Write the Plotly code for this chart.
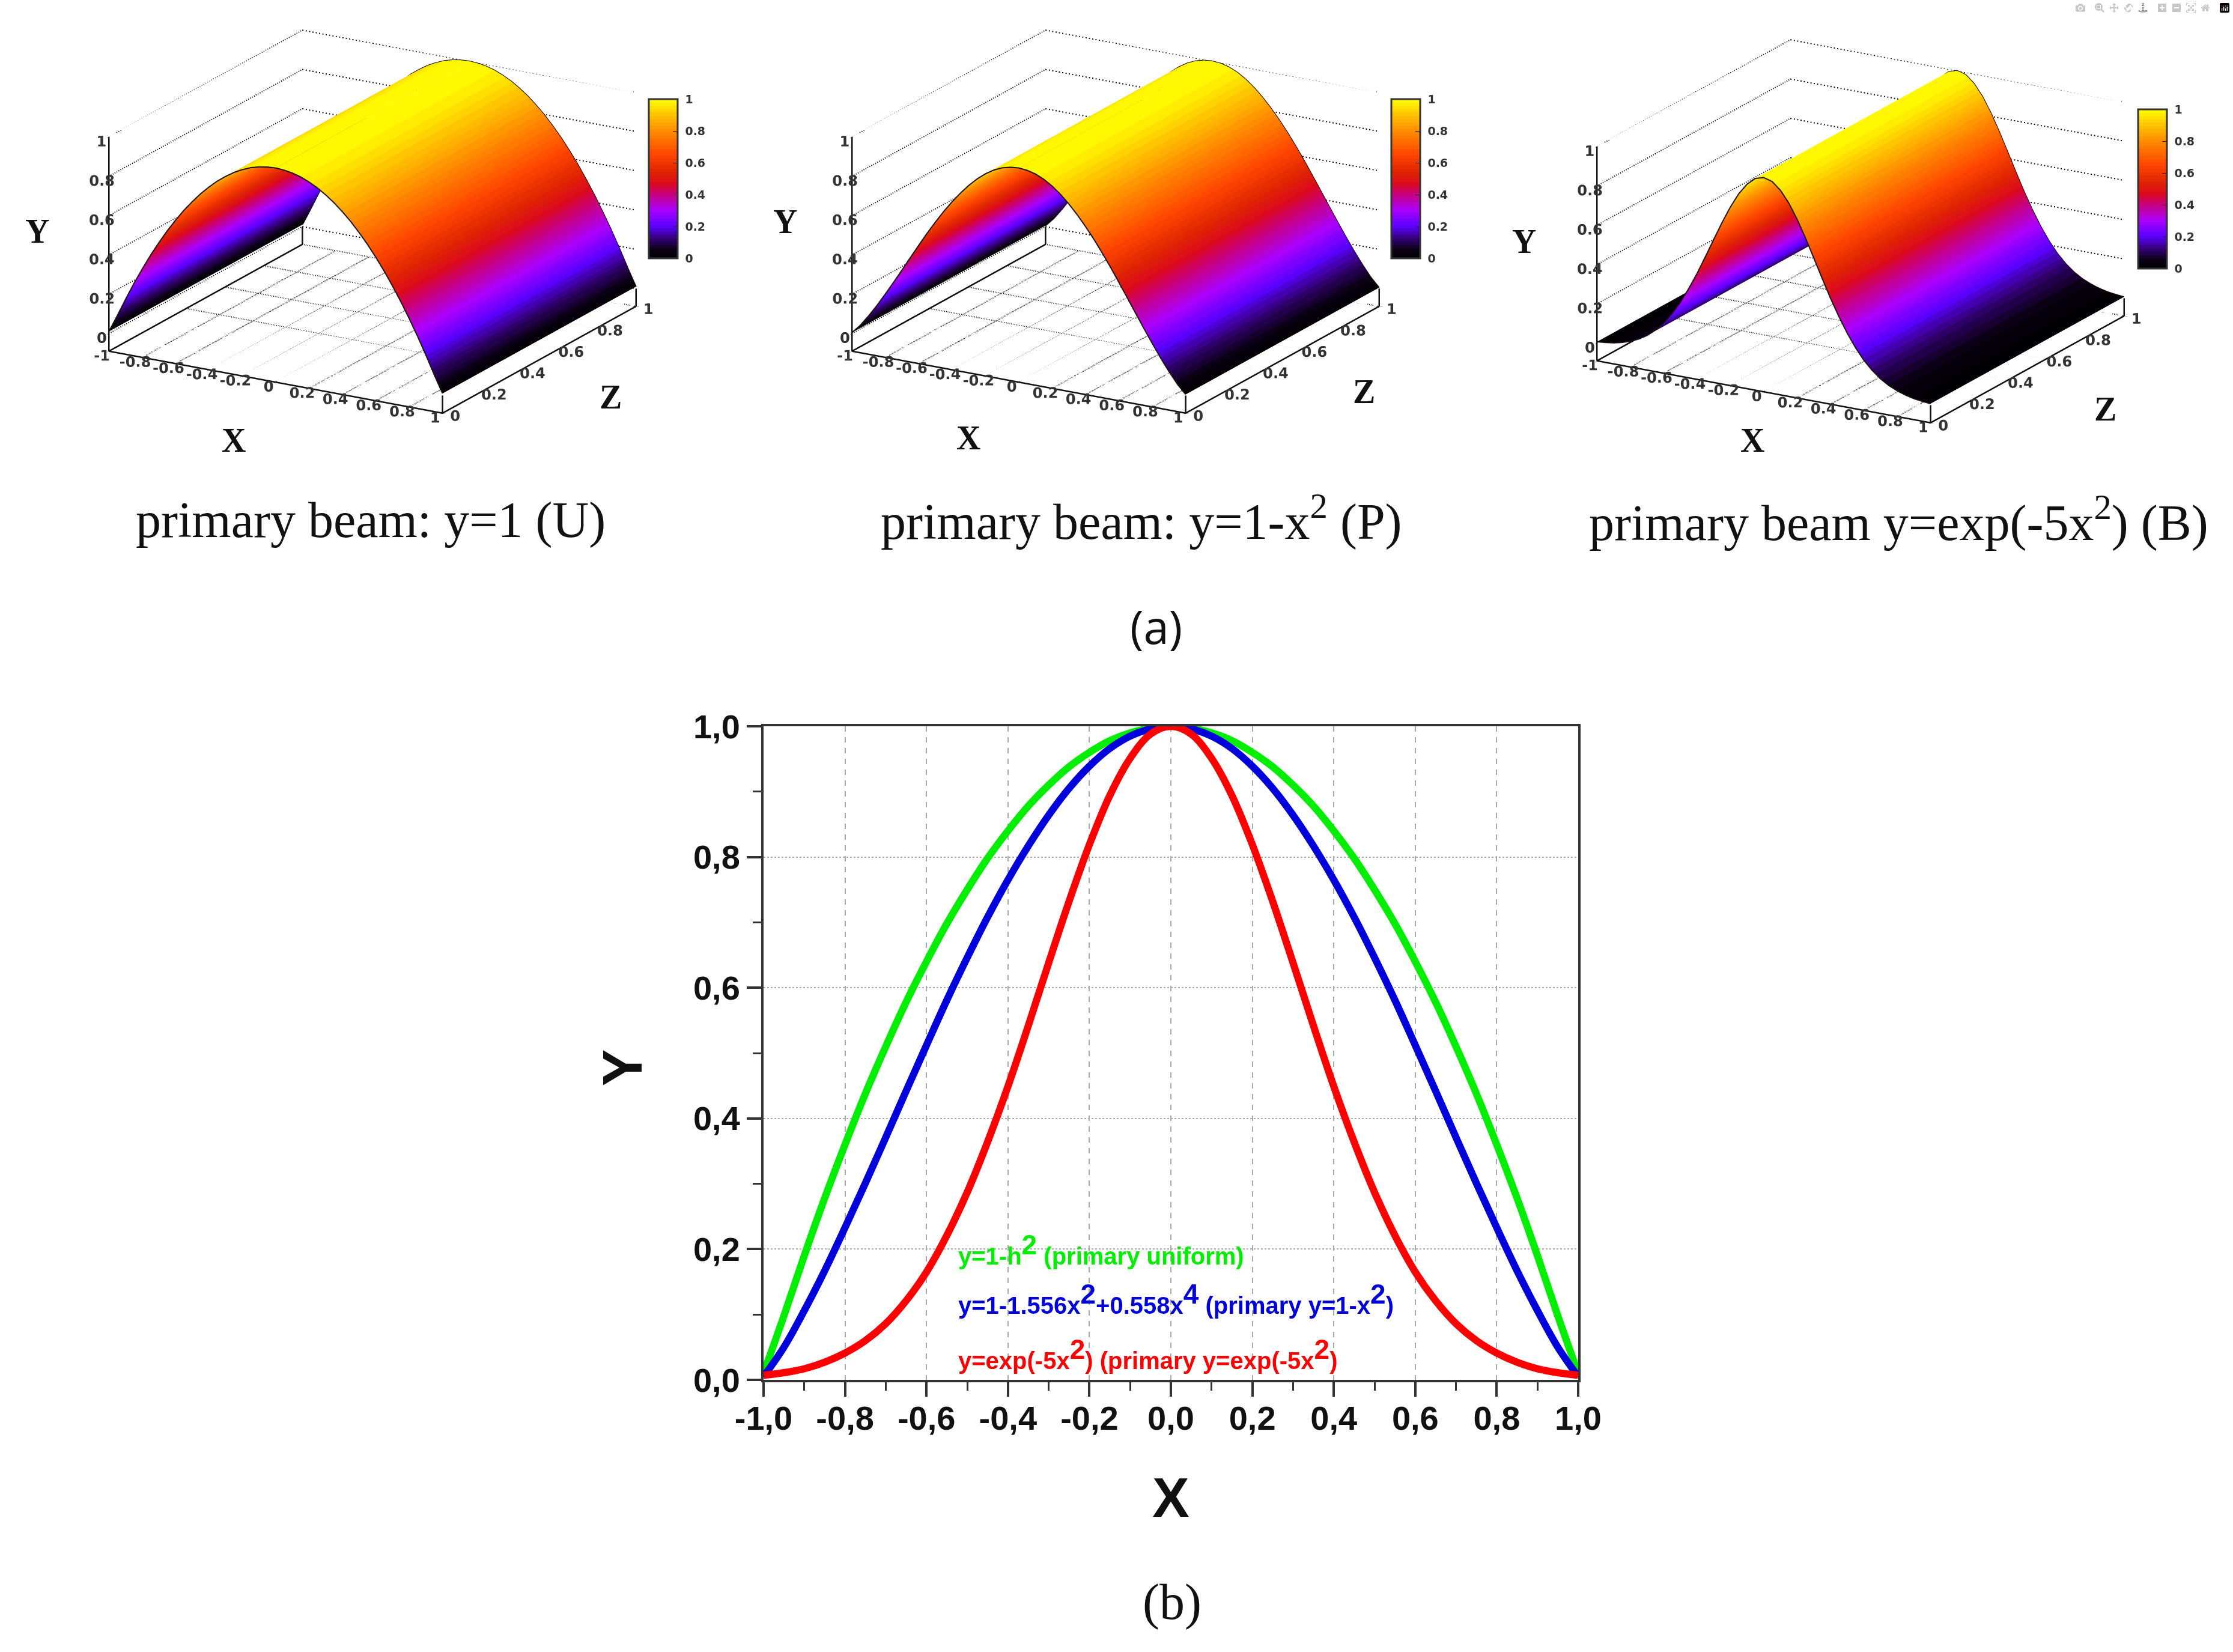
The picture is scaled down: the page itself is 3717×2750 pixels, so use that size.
import plotly.graph_objects as go

W = 3717
H = 2750

# half profiles, x = 0 .. 1 (the curves are symmetric)
x_half = [0.0, 0.05, 0.1, 0.15, 0.2, 0.25, 0.3, 0.35, 0.4, 0.45, 0.5,
          0.55, 0.6, 0.65, 0.7, 0.75, 0.8, 0.85, 0.9, 0.95, 1.0]
green_half = [1.0, 0.997, 0.99, 0.978, 0.96, 0.938, 0.91, 0.878, 0.84, 0.798, 0.75,
              0.698, 0.64, 0.578, 0.51, 0.438, 0.36, 0.278, 0.19, 0.098, 0.01]
blue_half = [1.0, 0.996, 0.985, 0.966, 0.939, 0.905, 0.864, 0.817, 0.765, 0.708, 0.646,
             0.581, 0.512, 0.442, 0.371, 0.301, 0.233, 0.167, 0.106, 0.05, 0.005]
red_half = [1.0, 0.988, 0.951, 0.894, 0.819, 0.732, 0.638, 0.542, 0.449, 0.364, 0.287,
            0.221, 0.165, 0.121, 0.086, 0.06, 0.041, 0.027, 0.017, 0.011, 0.007]

x_ticks_3d = [-1, -0.8, -0.6, -0.4, -0.2, 0, 0.2, 0.4, 0.6, 0.8, 1]
x_labels_3d = ['-1', '-0.8', '-0.6', '-0.4', '-0.2', '0', '0.2', '0.4', '0.6', '0.8', '1']
unit_ticks = [0, 0.2, 0.4, 0.6, 0.8, 1]
unit_labels = ['0', '0.2', '0.4', '0.6', '0.8', '1']
z_span = [0, 1]
y_base = -0.09

x_ticks_2d = [-1, -0.8, -0.6, -0.4, -0.2, 0, 0.2, 0.4, 0.6, 0.8, 1]
x_labels_2d = ['-1,0', '-0,8', '-0,6', '-0,4', '-0,2', '0,0', '0,2', '0,4', '0,6', '0,8', '1,0']
y_ticks_2d = [0, 0.2, 0.4, 0.6, 0.8, 1]
y_labels_2d = ['0,0', '0,2', '0,4', '0,6', '0,8', '1,0']
x_minor = [-0.9, -0.7, -0.5, -0.3, -0.1, 0.1, 0.3, 0.5, 0.7, 0.9]
y_minor = [0.1, 0.3, 0.5, 0.7, 0.9]

captions = ['primary beam: y=1 (U)', 'primary beam: y=1-x<sup>2</sup> (P)',
            'primary beam y=exp(-5x<sup>2</sup>) (B)']

# colours sampled from the reference colour bar
palette_stops = [0, 0.05, 0.12, 0.2, 0.3, 0.4, 0.47, 0.55, 0.65, 0.8, 0.9, 1]
palette_rgb = [(0, 0, 0), (10, 0, 20), (50, 0, 110), (90, 0, 255), (170, 0, 255), (200, 0, 130), (220, 10, 30),
               (225, 40, 0), (255, 70, 0), (255, 140, 0), (255, 195, 0), (255, 255, 0)]


def mirror(values):
    return values[:0:-1] + values


def mirror_x(values):
    return [-v for v in values[:0:-1]] + values


x_full = mirror_x(x_half)
profiles = [mirror(green_half), mirror(blue_half), mirror(red_half)]


# cut the palette into flat bands like the pm3d strips
def palette(n=48):
    scale = []
    for i in range(n):
        t = (i + 0.5) / n
        k = 0
        while palette_stops[k + 1] < t:
            k += 1
        f = (t - palette_stops[k]) / (palette_stops[k + 1] - palette_stops[k])
        rgb = [int(a + (b - a) * f) for a, b in zip(palette_rgb[k], palette_rgb[k + 1])]
        col = f'rgb({rgb[0]},{rgb[1]},{rgb[2]})'
        scale.append([i / n, col])
        scale.append([(i + 1) / n, col])
    return scale


def px_x(p):
    return p / W


def px_y(p):
    return 1 - p / H


fig = go.Figure()


def line3d(scene, xs, ys, zs, color='#111111', width=5, dash='solid'):
    fig.add_trace(go.Scatter3d(x=xs, y=ys, z=zs, mode='lines', scene=scene, showlegend=False,
                               hoverinfo='skip', line=dict(color=color, width=width, dash=dash)))


panels = [
    dict(scene='scene', center=(620, 369), bar=(1080, 165), prof=profiles[0]),
    dict(scene='scene2', center=(1857, 369), bar=(2316, 165), prof=profiles[1]),
    dict(scene='scene3', center=(3097, 385), bar=(3559, 182), prof=profiles[2]),
]

for p in panels:
    s = p['scene']
    fig.add_trace(go.Surface(
        x=x_full, y=z_span, z=[p['prof'], p['prof']], surfacecolor=[p['prof'], p['prof']],
        scene=s, cmin=0, cmax=1, colorscale=palette(),
        lighting=dict(ambient=1, diffuse=0, specular=0, roughness=1, fresnel=0),
        hoverinfo='skip',
        colorbar=dict(x=px_x(p['bar'][0]), xanchor='left', y=px_y(p['bar'][1]), yanchor='top',
                      thickness=48, thicknessmode='pixels', len=265, lenmode='pixels',
                      xpad=0, ypad=0, outlinecolor='#333333', outlinewidth=3,
                      ticks='inside', ticklen=9, tickcolor='#222222',
                      tickvals=unit_ticks, ticktext=['\u00a0' + t for t in unit_labels],
                      tickfont=dict(family='DejaVu Sans', size=19, color='#333333', weight='bold')),
    ))
    # dark outline of the two end profiles
    for zv in z_span:
        line3d(s, x_full, [zv] * len(x_full), p['prof'], color='#1a1010', width=4)

    # dotted grid, floor and back walls
    for xv in x_ticks_3d:
        line3d(s, [xv, xv], z_span, [y_base, y_base], color='#000000', width=4, dash='dot')
    for zv in unit_ticks:
        line3d(s, [-1, 1], [zv, zv], [y_base, y_base], color='#000000', width=4, dash='dot')
    for yv in unit_ticks:
        line3d(s, [-1, -1, 1], [0, 1, 1], [yv, yv, yv], color='#000000', width=4, dash='dot')

    # solid box
    line3d(s, [-1, 1, 1, -1, -1], [0, 0, 1, 1, 0], [y_base] * 5)
    line3d(s, [-1, -1], [0, 0], [y_base, 1])
    line3d(s, [1, 1], [0, 0], [y_base, 0])
    line3d(s, [1, 1], [1, 1], [y_base, 0])
    line3d(s, [-1, -1], [1, 1], [y_base, 0])


def scene_axis(tickvals, ticktext, rng):
    return dict(range=rng, tickvals=tickvals, ticktext=ticktext, title=dict(text=''),
                showgrid=False, zeroline=False, showbackground=False, showline=False,
                showspikes=False, ticks='outside', ticklen=6, tickcolor='#222222', tickangle=0,
                tickfont=dict(family='DejaVu Sans', size=17, color='#333333', weight='bold'))


eye_r = 3
camera = dict(eye=dict(x=0.475 * eye_r, y=-0.819 * eye_r, z=0.32 * eye_r), up=dict(x=0, y=0, z=1),
              center=dict(x=0, y=0, z=0), projection=dict(type='orthographic'))

scene_w = 1180
scene_h = 738
layout_scenes = {}
for p in panels:
    cx, cy = p['center']
    layout_scenes[p['scene']] = dict(
        domain=dict(x=[px_x(cx - scene_w / 2), px_x(cx + scene_w / 2)],
                    y=[px_y(cy + scene_h / 2), px_y(cy - scene_h / 2)]),
        aspectmode='manual', aspectratio=dict(x=1.74, y=1.74, z=1.02),
        camera=camera, bgcolor='white',
        xaxis=scene_axis(x_ticks_3d, x_labels_3d, [-1, 1]),
        yaxis=scene_axis(unit_ticks, unit_labels, [0, 1]),
        zaxis=scene_axis(unit_ticks, [t + '\u00a0\u00a0' for t in unit_labels], [y_base, 1]),
    )

# bottom chart
curve_colors = ['#00ee00', '#0000dd', '#ff0000']
for prof, col in zip(profiles, curve_colors):
    fig.add_trace(go.Scatter(x=x_full, y=prof, mode='lines', xaxis='x', yaxis='y', showlegend=False,
                             line=dict(color=col, width=12, shape='spline'), cliponaxis=False))

axis_font = dict(family='Liberation Sans', size=56, color='#111111', weight='bold')
title_font = dict(family='Liberation Sans', size=92, color='#111111', weight='bold')

annotations = []


def label(px, py, text, font, angle=0):
    annotations.append(dict(x=px_x(px), y=px_y(py), xref='paper', yref='paper', text=text, showarrow=False,
                            xanchor='center', yanchor='middle', font=font, textangle=angle))


letter = dict(family='Liberation Serif', size=56, color='#111111', weight='bold')
for px, py, t in [(62, 385, 'Y'), (389, 733, 'X'), (1016, 661, 'Z'),
                  (1307, 369, 'Y'), (1612, 729, 'X'), (2270, 652, 'Z'),
                  (2537, 402, 'Y'), (2917, 733, 'X'), (3504, 681, 'Z')]:
    label(px, py, t, letter)

cap_font = dict(family='Liberation Serif', size=84, color='#111111')
label(617, 866, captions[0], cap_font)
label(1900, 863, captions[1], cap_font)
label(3160, 865, captions[2], cap_font)
label(1925, 1043, '(a)', dict(family='Open Sans', size=76, color='#111111'))
label(1951, 2667, '(b)', cap_font)
label(1036, 1778, 'Y', title_font, angle=-90)


def big_sup(n):
    return f'<sup><span style="font-size:46px">{n}</span></sup>'


note_x = -0.525
notes = [
    (0.2, f'y=1-h{big_sup(2)} (primary uniform)', curve_colors[0]),
    (0.125, f'y=1-1.556x{big_sup(2)}+0.558x{big_sup(4)} (primary y=1-x{big_sup(2)})', curve_colors[1]),
    (0.04, f'y=exp(-5x{big_sup(2)}) (primary y=exp(-5x{big_sup(2)})', curve_colors[2]),
]
for ny, text, col in notes:
    annotations.append(dict(x=note_x, y=ny, xref='x', yref='y', text=text, showarrow=False,
                            xanchor='left', yanchor='middle',
                            font=dict(family='Liberation Sans', size=40, color=col, weight='bold')))

fig.update_layout(
    width=W, height=H, margin=dict(l=0, r=0, t=0, b=0, autoexpand=False), showlegend=False,
    paper_bgcolor='white', plot_bgcolor='white',
    annotations=annotations,
    xaxis=dict(domain=[1271 / W, 2627 / W], range=[-1, 1], tickvals=x_ticks_2d, ticktext=x_labels_2d,
               tickfont=axis_font, ticks='outside', ticklen=24, tickwidth=4, tickcolor='#333333',
               ticklabelstandoff=-12,
               showline=True, mirror=True, linecolor='#333333', linewidth=4,
               showgrid=True, gridcolor='#aaaaaa', griddash='dash', gridwidth=2, zeroline=False,
               minor=dict(tickvals=x_minor, ticks='outside', ticklen=14, tickwidth=3, tickcolor='#333333', showgrid=False),
               title=dict(text='X', font=title_font, standoff=70)),
    yaxis=dict(domain=[1 - 2297 / H, 1 - 1209 / H], range=[0, 1], tickvals=y_ticks_2d, ticktext=y_labels_2d,
               tickfont=axis_font, ticks='outside', ticklen=24, tickwidth=4, tickcolor='#333333',
               showline=True, mirror=True, linecolor='#333333', linewidth=4,
               showgrid=True, gridcolor='#aaaaaa', griddash='dot', gridwidth=2, zeroline=False,
               minor=dict(tickvals=y_minor, ticks='outside', ticklen=14, tickwidth=3, tickcolor='#333333', showgrid=False)),
    **layout_scenes,
)

fig.write_html("out.html", post_script="document.body.style.margin='0';")
